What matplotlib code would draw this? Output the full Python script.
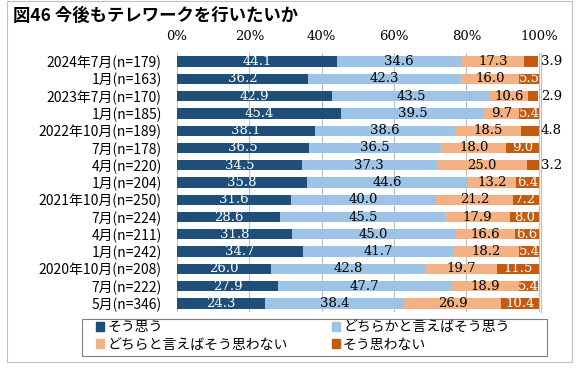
import matplotlib.pyplot as plt
import numpy as np
from matplotlib.patches import Patch, Rectangle

plt.rcParams["font.family"] = ["Noto Sans CJK JP", "DejaVu Sans"]

categories = [
    "2024年7月(n=179)", "1月(n=163)", "2023年7月(n=170)", "1月(n=185)",
    "2022年10月(n=189)", "7月(n=178)", "4月(n=220)", "1月(n=204)",
    "2021年10月(n=250)", "7月(n=224)", "4月(n=211)", "1月(n=242)",
    "2020年10月(n=208)", "7月(n=222)", "5月(n=346)",
]
series_names = ["そう思う", "どちらかと言えばそう思う", "どちらと言えばそう思わない", "そう思わない"]
agree = [44.1, 36.2, 42.9, 45.4, 38.1, 36.5, 34.5, 35.8, 31.6, 28.6, 31.8, 34.7, 26.0, 27.9, 24.3]
somewhat_agree = [34.6, 42.3, 43.5, 39.5, 38.6, 36.5, 37.3, 44.6, 40.0, 45.5, 45.0, 41.7, 42.8, 47.7, 38.4]
somewhat_disagree = [17.3, 16.0, 10.6, 9.7, 18.5, 18.0, 25.0, 13.2, 21.2, 17.9, 16.6, 18.2, 19.7, 18.9, 26.9]
disagree = [3.9, 5.5, 2.9, 5.4, 4.8, 9.0, 3.2, 6.4, 7.2, 8.0, 6.6, 5.4, 11.5, 5.4, 10.4]
xticks = [0, 20, 40, 60, 80, 100]

colors = ["#1F4E79", "#9DC3E6", "#F4B183", "#C55A11"]
text_colors = ["white", "black", "black", "white"]

W, H = 583, 370
fig = plt.figure(figsize=(W / 100, H / 100), dpi=100)
ax = fig.add_axes([177 / W, 1 - 312 / H, (541 - 177) / W, (312 - 53) / H])

y = np.arange(len(categories))
left = np.zeros(len(categories))
num_font = dict(family=["DejaVu Serif"], fontsize=9.5)
for i, vals in enumerate([agree, somewhat_agree, somewhat_disagree, disagree]):
    vals = np.array(vals)
    ax.barh(y, vals, left=left, height=0.6, color=colors[i], zorder=2)
    for j, v in enumerate(vals):
        if i == 3 and v < 5:
            ax.text(left[j] + v + 0.6, y[j], f"{v:.1f}", ha="left", va="center",
                    color="black", **num_font)
        else:
            ax.text(left[j] + v / 2, y[j], f"{v:.1f}", ha="center", va="center",
                    color=text_colors[i], **num_font)
    left += vals

ax.set_xlim(0, 100.6)
ax.set_ylim(len(categories) - 0.5, -0.5)
ax.set_xticks(xticks)
ax.set_xticklabels([f"{t}%" for t in xticks], **num_font)
ax.xaxis.tick_top()
ax.tick_params(axis="x", length=0, pad=7)
ax.set_yticks(y)
ax.set_yticklabels(categories, fontsize=10)
ax.tick_params(axis="y", length=0, pad=11)
ax.grid(axis="x", color="#BFBFBF", lw=0.8, zorder=0)
for s in ax.spines.values():
    s.set_color("#BFBFBF")
    s.set_linewidth(0.8)
ax.spines["top"].set_visible(False)
ax.spines["bottom"].set_visible(False)
ax.spines["left"].set_visible(False)

fig.text(13 / W, 1 - 16 / H, "図46 今後もテレワークを行いたいか", fontsize=12.5,
         fontweight="bold", va="center", ha="left")

# legend: frame drawn separately so it can be wider than its entries
handles = [Patch(color=c) for c in colors]
order = [0, 2, 1, 3]
fig.legend([handles[k] for k in order], [series_names[k] for k in order],
           ncol=2, loc="upper left", bbox_to_anchor=(96 / W, 1 - 320 / H),
           fontsize=10, frameon=False,
           handlelength=0.6, handleheight=0.6, handletextpad=0.2,
           columnspacing=3.2, labelspacing=0.25, borderpad=0.0, borderaxespad=0)
fig.patches.append(Rectangle((82 / W, 1 - 356 / H), (547 - 82) / W, (356 - 319) / H,
                             transform=fig.transFigure, fill=False,
                             edgecolor="#7F7F7F", lw=0.8))

fig.patches.append(Rectangle((7 / W, 1 - 362 / H), (572 - 7) / W, (362 - 1) / H,
                             transform=fig.transFigure, fill=False,
                             edgecolor="#BFBFBF", lw=0.8))

fig.savefig("out.png", dpi=100)
